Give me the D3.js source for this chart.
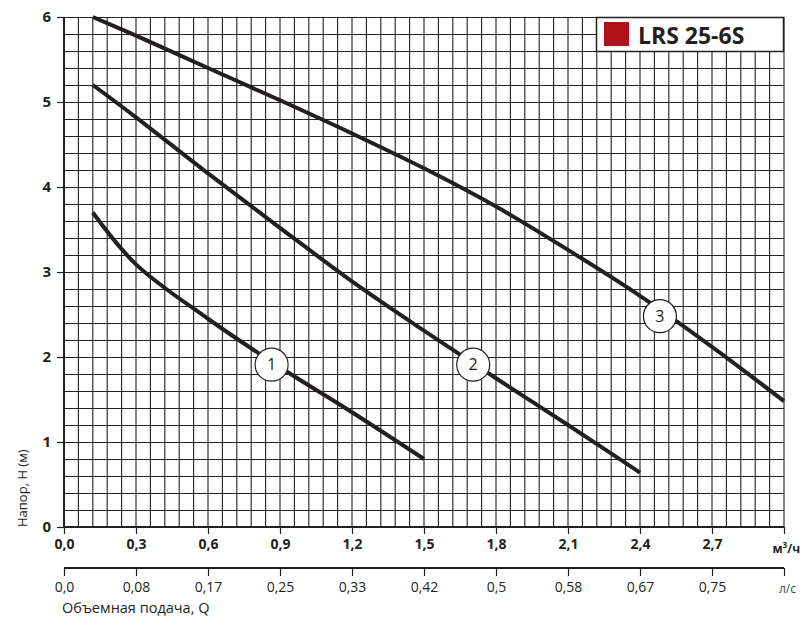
<!DOCTYPE html>
<html>
<head>
<meta charset="utf-8">
<script src="https://cdn.jsdelivr.net/npm/d3@7"></script>
<style>
  body { margin: 0; background: #fff; }
  svg { display: block; font-family: "Open Sans", "Noto Sans", sans-serif; }
</style>
</head>
<body>
<div id="chart"></div>
<script>
// pump curves, flow in m3/h, head in m
const flow1 = [0.12, 0.3, 0.6, 0.9, 1.2, 1.5];
const head1 = [3.7, 3.09, 2.45, 1.88, 1.35, 0.8];
const flow2 = [0.12, 0.3, 0.6, 0.9, 1.2, 1.5, 1.8, 2.1, 2.4];
const head2 = [5.2, 4.82, 4.16, 3.52, 2.89, 2.31, 1.75, 1.2, 0.64];
const flow3 = [0.12, 0.3, 0.6, 0.9, 1.2, 1.5, 1.8, 2.1, 2.4, 2.7, 3.0];
const head3 = [6.0, 5.78, 5.4, 5.02, 4.63, 4.22, 3.77, 3.26, 2.72, 2.12, 1.48];

// numbered markers on the curves
const markerNames = ["1", "2", "3"];
const markerFlow = [0.865, 1.705, 2.483];
const markerHead = [1.91, 1.91, 2.48];

const flowTicks = [0, 0.3, 0.6, 0.9, 1.2, 1.5, 1.8, 2.1, 2.4, 2.7, 3.0];
const flowLabels = ["0,0", "0,3", "0,6", "0,9", "1,2", "1,5", "1,8", "2,1", "2,4", "2,7", ""];
const lsLabels = ["0,0", "0,08", "0,17", "0,25", "0,33", "0,42", "0,5", "0,58", "0,67", "0,75", ""];
const headTicks = [0, 1, 2, 3, 4, 5, 6];

const title = "LRS 25-6S";
const ink = "#231f20";

const svg = d3.select("#chart").append("svg")
    .attr("width", 803)
    .attr("height", 620);

const x = d3.scaleLinear().domain([0, 3]).range([64, 784]);
const y = d3.scaleLinear().domain([0, 6]).range([527, 17]);

// grid
const grid = svg.append("g");
grid.selectAll(".vline")
    .data(d3.range(0, 51).map(i => i * 0.06))
    .enter().append("line")
    .attr("x1", d => x(d)).attr("x2", d => x(d))
    .attr("y1", y(6)).attr("y2", y(0))
    .attr("stroke", "#222")
    .attr("stroke-width", 1.1);
grid.selectAll(".hline")
    .data(d3.range(0, 31).map(i => i * 0.2))
    .enter().append("line")
    .attr("x1", x(0)).attr("x2", x(3))
    .attr("y1", d => Math.round(y(d)) + 0.5).attr("y2", d => Math.round(y(d)) + 0.5)
    .attr("stroke", "#222")
    .attr("stroke-width", 1.1);

// left axis
svg.append("line")
    .attr("x1", x(0)).attr("x2", x(0))
    .attr("y1", y(6)).attr("y2", y(0))
    .attr("stroke", ink).attr("stroke-width", 2);
const yAxis = svg.append("g")
    .attr("transform", `translate(${x(0)},0)`)
    .call(d3.axisLeft(y).tickValues(headTicks).tickSize(7).tickPadding(6).tickFormat(d3.format("d")));
yAxis.select(".domain").remove();
yAxis.selectAll("line").attr("stroke", ink).attr("stroke-width", 1.2);
yAxis.selectAll("text")
    .attr("fill", ink)
    .style("font-size", "15px")
    .style("font-weight", "bold")
    .style("font-family", "'Open Sans', sans-serif");

// bottom axis (m3/h)
svg.append("line")
    .attr("x1", x(0)).attr("x2", x(3))
    .attr("y1", y(0)).attr("y2", y(0))
    .attr("stroke", ink).attr("stroke-width", 2);
const xAxis = svg.append("g")
    .attr("transform", `translate(0,${y(0)})`)
    .call(d3.axisBottom(x).tickValues(flowTicks).tickSize(7).tickPadding(5)
        .tickFormat((d, i) => flowLabels[i]));
xAxis.select(".domain").remove();
xAxis.selectAll("line").attr("stroke", ink).attr("stroke-width", 1.2);
xAxis.selectAll("text")
    .attr("fill", ink)
    .style("font-size", "14px")
    .style("font-weight", "bold")
    .style("font-family", "'Open Sans', sans-serif");

svg.append("text")
    .attr("x", 800).attr("y", 553)
    .attr("text-anchor", "end")
    .attr("fill", ink)
    .style("font-size", "12px")
    .style("font-weight", "bold")
    .html("м<tspan dy='-5' font-size='8px'>3</tspan><tspan dy='5'>/ч</tspan>");

// second axis (l/s)
const axisL = svg.append("g")
    .attr("transform", "translate(0,568)")
    .call(d3.axisBottom(x).tickValues(flowTicks).tickSize(8).tickPadding(6)
        .tickFormat((d, i) => lsLabels[i]));
axisL.select(".domain").attr("stroke", ink).attr("stroke-width", 2).attr("d", `M${x(0)},0H${x(3)}`);
axisL.selectAll("line").attr("stroke", ink).attr("stroke-width", 1.2);
axisL.selectAll("text")
    .attr("fill", ink)
    .style("font-size", "14px")
    .style("font-family", "'Open Sans', sans-serif");

svg.append("text")
    .attr("x", 796).attr("y", 593)
    .attr("text-anchor", "end")
    .attr("fill", "#444")
    .style("font-size", "12px")
    .text("л/с");

svg.append("text")
    .attr("x", 62).attr("y", 613)
    .attr("fill", ink)
    .style("font-size", "14.5px")
    .text("Объемная подача, Q");

svg.append("text")
    .attr("transform", "translate(27,527) rotate(-90)")
    .attr("fill", ink)
    .style("font-size", "13px")
    .text("Напор, H (м)");

// curves
const line = d3.line()
    .x(d => x(d[0]))
    .y(d => y(d[1]))
    .curve(d3.curveCatmullRom);

[[flow1, head1], [flow2, head2], [flow3, head3]].forEach(([q, h]) => {
    svg.append("path")
        .datum(q.map((v, i) => [v, h[i]]))
        .attr("d", line)
        .attr("fill", "none")
        .attr("stroke", ink)
        .attr("stroke-width", 4);
});

// curve markers
const marks = svg.selectAll(".mark")
    .data(markerNames)
    .enter().append("g")
    .attr("transform", (d, i) => `translate(${x(markerFlow[i])},${y(markerHead[i])})`);
marks.append("circle")
    .attr("r", 16.5)
    .attr("fill", "#fff")
    .attr("stroke", ink)
    .attr("stroke-width", 1.2);
marks.append("text")
    .attr("text-anchor", "middle")
    .attr("dy", "0.36em")
    .attr("fill", ink)
    .style("font-size", "16px")
    .text(d => d);

// legend box
const legend = svg.append("g");
legend.append("rect")
    .attr("x", 596.5).attr("y", 17.5)
    .attr("width", 187).attr("height", 34)
    .attr("fill", "#fff")
    .attr("stroke", ink)
    .attr("stroke-width", 1.5);
legend.append("rect")
    .attr("x", 604).attr("y", 22)
    .attr("width", 25).attr("height", 24)
    .attr("fill", "#b0121b");
legend.append("text")
    .attr("x", 638).attr("y", 44)
    .attr("fill", ink)
    .style("font-size", "23px")
    .style("font-weight", "bold")
    .text(title);
</script>
</body>
</html>
